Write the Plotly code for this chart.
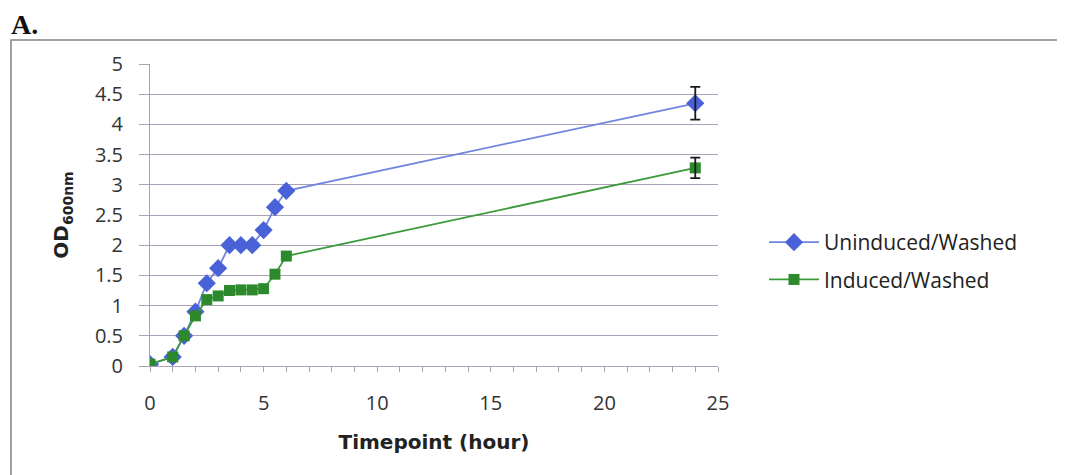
import plotly.graph_objects as go

time_h = [0, 1, 1.5, 2, 2.5, 3, 3.5, 4, 4.5, 5, 5.5, 6, 24]
uninduced = [0.03, 0.15, 0.5, 0.9, 1.37, 1.62, 2.0, 2.0, 2.0, 2.25, 2.63, 2.9, 4.35]
induced = [0.03, 0.15, 0.5, 0.83, 1.1, 1.16, 1.25, 1.26, 1.26, 1.28, 1.52, 1.82, 3.28]
err_time = [24]
err_uninduced = [0.27]
err_induced = [0.17]

# page has an 8px body margin; figure coordinates are page coordinates minus 8
OFF = 8
W, H = 1065 - OFF, 475 - OFF
L, R, T, B = 150 - OFF, 718 - OFF, 64 - OFF, 366 - OFF
pw, ph = R - L, B - T

def px(x):
    return (x - OFF - L) / pw

def py(y):
    return (B - (y - OFF)) / ph

blue_line = "#7085e0"
blue_mk = "#4a62d8"
green_line = "#3c9a3c"
green_mk = "#2c8a2c"
grid = "#a9a2b6"

fig = go.Figure()
fig.add_trace(go.Scatter(
    x=time_h, y=uninduced, name="Uninduced/Washed", mode="lines+markers",
    legendgroup="u",
    line=dict(color=blue_line, width=1.8),
    marker=dict(symbol="diamond", size=14, color=blue_mk),
))
fig.add_trace(go.Scatter(
    x=time_h, y=induced, name="Induced/Washed", mode="lines+markers",
    legendgroup="i",
    line=dict(color=green_line, width=1.8),
    marker=dict(symbol="square", size=11, color=green_mk),
))
for yv, ev in ((uninduced, err_uninduced), (induced, err_induced)):
    fig.add_trace(go.Scatter(
        x=err_time, y=[yv[time_h.index(t)] for t in err_time], mode="markers",
        marker=dict(size=1, color="rgba(0,0,0,0)"), showlegend=False, hoverinfo="skip",
        error_y=dict(type="data", array=ev, visible=True, color="#1a1a1a", thickness=1.8, width=5),
    ))

tickfont = dict(family="Open Sans, Lato, sans-serif", size=20, color="#333333")
titlefont = dict(family="DejaVu Sans, Liberation Sans, sans-serif", size=20, color="#222222")
fig.update_layout(
    width=W, height=H,
    margin=dict(l=L, r=W - R, t=T, b=H - B),
    paper_bgcolor="white", plot_bgcolor="white",
    showlegend=True,
    legend=dict(x=px(764), y=py(222), xanchor="left", yanchor="top",
                font=dict(family="Open Sans, Lato, sans-serif", size=21, color="#222222"),
                bgcolor="rgba(0,0,0,0)", tracegroupgap=7, itemwidth=50),
    xaxis=dict(range=[0, 25], dtick=5, showgrid=False, zeroline=False,
               showline=True, linecolor=grid, linewidth=1,
               ticks="outside", ticklen=5, tickcolor=grid,
               minor=dict(dtick=1, ticks="outside", ticklen=5, tickcolor=grid),
               tickfont=tickfont, ticklabelstandoff=14,
               title=dict(text="<b>Timepoint (hour)</b>", standoff=19, font=titlefont)),
    yaxis=dict(range=[0, 5], dtick=0.5, showgrid=True, gridcolor=grid, gridwidth=1,
               zeroline=False, showline=True, linecolor=grid, linewidth=1,
               ticks="outside", ticklen=10, tickcolor=grid,
               tickfont=tickfont, ticklabelstandoff=12,
               title=dict(text="<b>OD<sub>600nm</sub></b>", standoff=20, font=titlefont)),
)

fig.add_shape(type="rect", xref="paper", yref="paper",
              x0=px(11), x1=px(1080), y0=py(490), y1=py(40),
              line=dict(color="#8a7f86", width=1.5), fillcolor="rgba(0,0,0,0)", layer="below")
fig.add_annotation(xref="paper", yref="paper", x=px(9), y=py(42), xanchor="left", yanchor="bottom",
                   text="<b>A.</b>", showarrow=False,
                   font=dict(family="Liberation Serif, Times New Roman, serif", size=28, color="#111111"))

fig.write_html("out.html")
